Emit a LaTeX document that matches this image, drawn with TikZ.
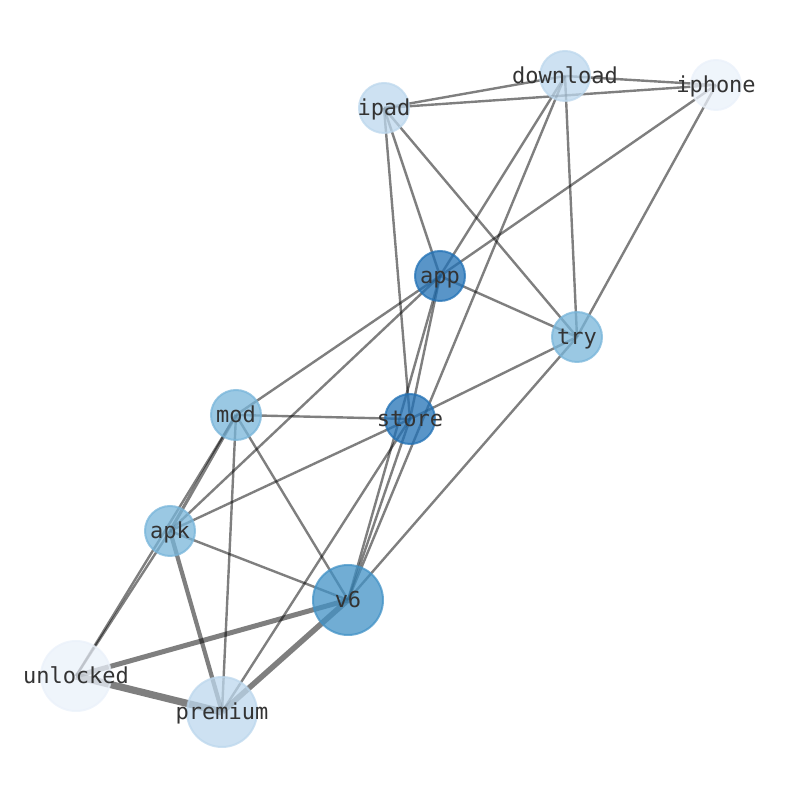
\documentclass[tikz,border=0pt]{standalone}
\usepackage{fontspec}
\setmonofont{DejaVu Sans Mono}
\usepackage{tikz}
\pgfdeclarelayer{bg}
\pgfsetlayers{bg,main}
\definecolor{bluea}{HTML}{2171B5}
\definecolor{blueb}{HTML}{4292C6}
\definecolor{bluec}{HTML}{78B5DA}
\definecolor{blued}{HTML}{BCD7ED}
\definecolor{bluee}{HTML}{EAF1FA}
\newcommand{\wlabel}[1]{\makebox[0pt]{\raisebox{-3.6pt}[0pt][0pt]{#1}}}
\tikzset{
wnode/.style = {circle, minimum size=#1, inner sep=0pt, outer sep=0pt, line width=1pt,
  fill opacity=0.75, draw opacity=0.75, text opacity=1, text=black!80,
  font=\ttfamily\fontsize{11}{13}\selectfont},
wnode/.default = 25pt % diameter of the circle
}
\tikzset{ca/.style={fill=bluea, draw=bluea}}
\tikzset{cb/.style={fill=blueb, draw=blueb}}
\tikzset{cc/.style={fill=bluec, draw=bluec}}
\tikzset{cd/.style={fill=blued, draw=blued}}
\tikzset{ce/.style={fill=bluee, draw=bluee}}
\tikzset{link/.style={draw=black, draw opacity=0.5, line width=#1}, link/.default=1.2pt}

\begin{document}
\begin{tikzpicture}[x=0.5pt, y=-0.5pt]
      \useasboundingbox (0,0) rectangle (794,790);
      % words
      \node [wnode, cd] (download) at (565,76) {\wlabel{download}};
      \node [wnode, ce] (iphone) at (716,85) {\wlabel{iphone}};
      \node [wnode, cd] (ipad) at (384,108) {\wlabel{ipad}};
      \node [wnode, ca] (app) at (440,276) {\wlabel{app}};
      \node [wnode, cc] (try) at (577,337) {\wlabel{try}};
      \node [wnode, cc] (mod) at (236,415) {\wlabel{mod}};
      \node [wnode, ca] (store) at (410,419) {\wlabel{store}};
      \node [wnode, cc] (apk) at (170,531) {\wlabel{apk}};
      \node [wnode=35pt, cb] (v6) at (348,600) {\wlabel{v6}};
      \node [wnode=35pt, ce] (unlocked) at (76,676) {\wlabel{unlocked}};
      \node [wnode=35pt, cd] (premium) at (222,712) {\wlabel{premium}};
      \begin{pgfonlayer}{bg}
        \foreach \a/\b in {ipad/download, ipad/iphone, download/iphone, download/app,
            download/v6, download/try, iphone/app, iphone/try, ipad/app, ipad/store,
            ipad/try, app/try, app/store, app/v6, app/mod, app/apk, try/store, try/v6,
            mod/store, mod/unlocked, mod/premium, mod/v6, apk/store, apk/v6,
            apk/unlocked, store/premium, store/v6}
          \draw [link] (\a.center) -- (\b.center);
        \draw [link=1.6pt] (mod.center) -- (apk.center);
        \draw [link=2.1pt] (apk.center) -- (premium.center);
        \draw [link=2.5pt] (unlocked.center) -- (v6.center);
        \draw [link=2.8pt] (premium.center) -- (v6.center);
        \draw [link=3.6pt] (unlocked.center) -- (premium.center);
      \end{pgfonlayer}
    \end{tikzpicture}
\end{document}
